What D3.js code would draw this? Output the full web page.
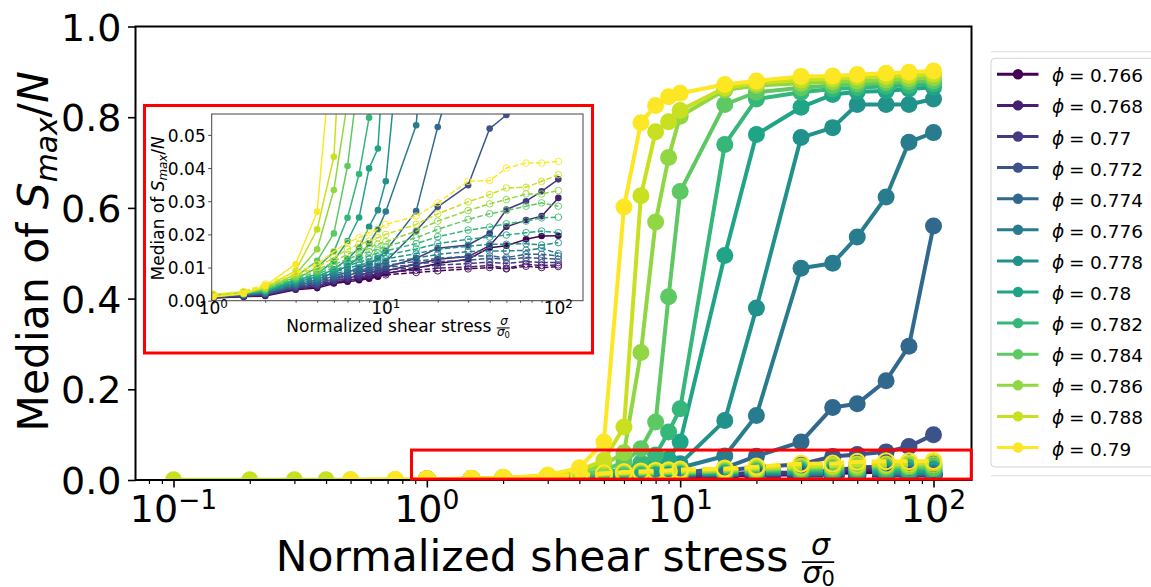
<!DOCTYPE html>
<html><head><meta charset="utf-8">
<script src="https://cdn.jsdelivr.net/npm/d3@7"></script>
<style>body{margin:0;background:#fff}svg{display:block}text{font-family:"DejaVu Sans",sans-serif;fill:#000}</style>
</head><body><svg id="c" width="1151" height="587"></svg>
<script>
// ---------------- data ----------------
const PHI = ["0.766","0.768","0.77","0.772","0.774","0.776","0.778","0.78","0.782","0.784","0.786","0.788","0.79"];
const X_MAIN = [1,1.5,2,3,4,5,6,7,8,9,10,15,20,30,40,50,65,80,100];
const X_LOW_788 = [0.1,0.2,0.3,0.4,0.5,0.75];
const Y_LOW_788 = [0.0005,0.0005,0.0006,0.0006,0.0007,0.0009];
const X_LOW_790 = [0.5,0.75];
const Y_LOW_790 = [0.0007,0.0009];

// median of S_max/N (solid lines, filled markers)
const S_766 = [0.0008,0.0012,0.0014,0.0033,0.0038,0.0052,0.0057,0.0062,0.0066,0.0072,0.0082,0.0098,0.0112,0.0125,0.0160,0.0166,0.0185,0.0195,0.0196];
const S_768 = [0.0009,0.0013,0.0016,0.0035,0.0042,0.0056,0.0062,0.0068,0.0074,0.0080,0.0090,0.0110,0.0125,0.0133,0.0166,0.0223,0.0243,0.0255,0.0310];
const S_770 = [0.0010,0.0014,0.0018,0.0038,0.0046,0.0060,0.0068,0.0076,0.0084,0.0092,0.0100,0.0128,0.0158,0.0168,0.0203,0.0275,0.0300,0.0330,0.0366];
const S_772 = [0.0011,0.0016,0.0020,0.0042,0.0052,0.0066,0.0076,0.0086,0.0095,0.0105,0.0118,0.0210,0.0283,0.0348,0.0519,0.0560,0.0620,0.0740,0.1000];
const S_774 = [0.0012,0.0018,0.0022,0.0046,0.0058,0.0074,0.0086,0.0098,0.0112,0.0128,0.0150,0.0270,0.0524,0.0840,0.1600,0.1680,0.2190,0.2950,0.5600];
const S_776 = [0.0013,0.0019,0.0024,0.0050,0.0064,0.0085,0.0105,0.0130,0.0173,0.0215,0.0269,0.0529,0.1420,0.4670,0.4780,0.5360,0.6240,0.7450,0.7660];
const S_778 = [0.0014,0.0020,0.0026,0.0055,0.0072,0.0095,0.0125,0.0160,0.0223,0.0273,0.0360,0.1310,0.3790,0.7550,0.7770,0.8280,0.8280,0.8280,0.8400];
const S_780 = [0.0015,0.0021,0.0028,0.0060,0.0080,0.0120,0.0180,0.0251,0.0399,0.0459,0.0840,0.4950,0.7620,0.8220,0.8500,0.8560,0.8580,0.8620,0.8660];
const S_782 = [0.0016,0.0022,0.0030,0.0065,0.0100,0.0148,0.0250,0.0382,0.0552,0.1060,0.1570,0.7400,0.8400,0.8550,0.8620,0.8650,0.8680,0.8700,0.8740];
const S_784 = [0.0017,0.0024,0.0033,0.0072,0.0120,0.0203,0.0406,0.0690,0.1280,0.4040,0.6360,0.8280,0.8550,0.8650,0.8700,0.8730,0.8760,0.8780,0.8800];
const S_786 = [0.0018,0.0026,0.0036,0.0080,0.0155,0.0334,0.0600,0.2810,0.5690,0.7110,0.8020,0.8600,0.8700,0.8750,0.8780,0.8800,0.8820,0.8850,0.8870];
const S_788 = [0.0012,0.0020,0.0040,0.0090,0.0215,0.0434,0.1170,0.6270,0.7680,0.7900,0.8150,0.8650,0.8750,0.8820,0.8850,0.8880,0.8900,0.8920,0.8950];
const S_790 = [0.0012,0.0022,0.0045,0.0110,0.0268,0.0840,0.6020,0.7880,0.8260,0.8450,0.8530,0.8720,0.8800,0.8900,0.8910,0.8940,0.8970,0.8990,0.9020];

// secondary quantity (dashed lines, hollow markers)
const D_766 = [0.0010,0.0014,0.0022,0.0038,0.0046,0.0055,0.0061,0.0066,0.0070,0.0074,0.0078,0.0085,0.0090,0.0096,0.0100,0.0096,0.0104,0.0100,0.0103];
const D_768 = [0.0011,0.0015,0.0024,0.0041,0.0050,0.0060,0.0067,0.0072,0.0077,0.0081,0.0085,0.0092,0.0098,0.0102,0.0106,0.0098,0.0110,0.0106,0.0108];
const D_770 = [0.0011,0.0016,0.0026,0.0044,0.0054,0.0065,0.0073,0.0079,0.0084,0.0088,0.0092,0.0100,0.0107,0.0112,0.0116,0.0112,0.0118,0.0115,0.0115];
const D_772 = [0.0012,0.0017,0.0028,0.0047,0.0058,0.0070,0.0079,0.0086,0.0091,0.0096,0.0100,0.0110,0.0118,0.0122,0.0128,0.0125,0.0130,0.0128,0.0125];
const D_774 = [0.0012,0.0018,0.0030,0.0050,0.0062,0.0075,0.0085,0.0092,0.0098,0.0103,0.0107,0.0118,0.0128,0.0134,0.0135,0.0130,0.0140,0.0140,0.0135];
const D_776 = [0.0013,0.0019,0.0032,0.0053,0.0066,0.0080,0.0091,0.0099,0.0106,0.0112,0.0116,0.0128,0.0140,0.0148,0.0150,0.0150,0.0152,0.0158,0.0142];
const D_778 = [0.0013,0.0020,0.0034,0.0056,0.0070,0.0086,0.0098,0.0107,0.0115,0.0121,0.0126,0.0142,0.0155,0.0164,0.0170,0.0170,0.0172,0.0168,0.0175];
const D_780 = [0.0014,0.0021,0.0036,0.0060,0.0075,0.0092,0.0106,0.0116,0.0125,0.0132,0.0138,0.0156,0.0172,0.0185,0.0192,0.0198,0.0205,0.0210,0.0205];
const D_782 = [0.0015,0.0022,0.0038,0.0064,0.0080,0.0100,0.0115,0.0126,0.0136,0.0144,0.0150,0.0172,0.0193,0.0213,0.0222,0.0232,0.0240,0.0250,0.0252];
const D_784 = [0.0016,0.0023,0.0040,0.0068,0.0086,0.0108,0.0126,0.0138,0.0148,0.0156,0.0163,0.0190,0.0215,0.0245,0.0262,0.0272,0.0285,0.0295,0.0285];
const D_786 = [0.0017,0.0024,0.0042,0.0072,0.0092,0.0118,0.0140,0.0152,0.0162,0.0170,0.0178,0.0210,0.0240,0.0272,0.0292,0.0305,0.0322,0.0322,0.0332];
const D_788 = [0.0018,0.0026,0.0045,0.0078,0.0100,0.0130,0.0155,0.0170,0.0180,0.0190,0.0200,0.0230,0.0262,0.0298,0.0320,0.0340,0.0342,0.0360,0.0380];
const D_790 = [0.0020,0.0028,0.0050,0.0085,0.0110,0.0148,0.0175,0.0190,0.0205,0.0215,0.0230,0.0255,0.0295,0.0360,0.0362,0.0400,0.0415,0.0415,0.0420];

const SOLID = [S_766,S_768,S_770,S_772,S_774,S_776,S_778,S_780,S_782,S_784,S_786,S_788,S_790];
const DASHED = [D_766,D_768,D_770,D_772,D_774,D_776,D_778,D_780,D_782,D_784,D_786,D_788,D_790];

const MAIN_Y_TICKS = [0,0.2,0.4,0.6,0.8,1.0];
const MAIN_X_TICKS = [0.1,1,10,100];
const MAIN_X_EXP = ["\u22121","0","1","2"];
const INSET_Y_TICKS = [0,0.01,0.02,0.03,0.04,0.05];
const INSET_X_TICKS = [1,10,100];
const INSET_X_EXP = ["0","1","2"];
const ZOOM_BOX = {x0:0.87, x1:141, y0:0.002, y1:0.066};

// ---------------- build ----------------
const svg = d3.select("#c");
const COLORS = PHI.map((_, i) => d3.interpolateViridis(i / (PHI.length - 1)));

const series = PHI.map((p, i) => {
  let xs = X_MAIN.slice(), ys = SOLID[i].slice();
  if (i === 11) { xs = X_LOW_788.concat(xs); ys = Y_LOW_788.concat(ys); }
  if (i === 12) { xs = X_LOW_790.concat(xs); ys = Y_LOW_790.concat(ys); }
  return {
    phi: p, color: COLORS[i],
    solid: xs.map((x, k) => [x, ys[k]]),
    dashed: X_MAIN.map((x, k) => [x, DASHED[i][k]])
  };
});

function minorTicks(dom) {
  const out = [];
  for (let e = -3; e <= 3; e++) for (let k = 2; k <= 9; k++) {
    const v = k * Math.pow(10, e);
    if (v >= dom[0] && v <= dom[1]) out.push(v);
  }
  return out;
}

function drawPanel(g, x, y, clipId, st) {
  const line = d3.line().x(d => x(d[0])).y(d => y(d[1]));
  const pg = g.append("g").attr("clip-path", `url(#${clipId})`);
  series.forEach(s => {
    pg.append("path").attr("d", line(s.solid)).attr("fill", "none")
      .attr("stroke", s.color).attr("stroke-width", st.lw).attr("stroke-linejoin", "round");
    pg.append("g").selectAll("circle").data(s.solid).join("circle")
      .attr("cx", d => x(d[0])).attr("cy", d => y(d[1])).attr("r", st.r).attr("fill", s.color);
    pg.append("path").attr("d", line(s.dashed)).attr("fill", "none")
      .attr("stroke", s.color).attr("stroke-width", st.lw).attr("stroke-dasharray", st.dash);
    pg.append("g").selectAll("circle").data(s.dashed).join("circle")
      .attr("cx", d => x(d[0])).attr("cy", d => y(d[1])).attr("r", st.rh)
      .attr("fill", "none").attr("stroke", s.color).attr("stroke-width", st.mew);
  });
}

function powLabel(g, px, base, exp, size) {
  const t = g.append("text").attr("x", px).attr("y", base).attr("font-size", size).attr("text-anchor", "middle");
  t.append("tspan").text("10");
  t.append("tspan").attr("font-size", size * 0.7).attr("dy", -size * 0.34).text(exp);
}

function xLabel(g, cx, base, size, fsz) {
  const t = g.append("text").attr("x", 0).attr("y", base).attr("font-size", size).text("Normalized shear stress\u00a0");
  const tw = t.node().getComputedTextLength();
  const fw = fsz * 1.08;
  const x0 = cx - (tw + fw) / 2;
  t.attr("x", x0);
  const fx = x0 + tw;
  const bar = base - size * 0.21;
  g.append("line").attr("x1", fx).attr("x2", fx + fw).attr("y1", bar).attr("y2", bar)
    .attr("stroke", "#000").attr("stroke-width", Math.max(1, fsz * 0.06));
  g.append("text").attr("x", fx + fw / 2 + fsz * 0.08).attr("y", bar - fsz * 0.25).attr("font-size", fsz)
    .attr("font-style", "italic").attr("text-anchor", "middle").text("\u03c3");
  const d = g.append("text").attr("x", fx + fsz * 0.02).attr("y", bar + fsz * 0.7).attr("font-size", fsz);
  d.append("tspan").attr("font-style", "italic").text("\u03c3");
  d.append("tspan").attr("font-size", fsz * 0.7).attr("dy", fsz * 0.1).text("0");
}

function yLabel(g, bx, cy, size) {
  const t = g.append("text").attr("transform", `translate(${bx},${cy}) rotate(-90)`)
    .attr("text-anchor", "middle").attr("font-size", size);
  t.append("tspan").text("Median of ");
  t.append("tspan").attr("font-style", "italic").text("S");
  t.append("tspan").attr("font-style", "italic").attr("font-size", size * 0.7).attr("dy", size * 0.2).text("max");
  t.append("tspan").attr("dy", -size * 0.2).text("/");
  t.append("tspan").attr("font-style", "italic").text("N");
}

const defs = svg.append("defs");

// ---------------- main axes ----------------
const M = {l: 135.5, r: 971.5, t: 26.5, b: 480};
const x = d3.scaleLog().domain([Math.pow(10, -1.15), Math.pow(10, 2.15)]).range([M.l, M.r]);
const y = d3.scaleLinear().domain([0, 1]).range([M.b, M.t]);
defs.append("clipPath").attr("id", "clipMain").append("rect")
  .attr("x", M.l).attr("y", M.t).attr("width", M.r - M.l).attr("height", M.b - M.t);

const main = svg.append("g");
drawPanel(main, x, y, "clipMain", {lw: 4, r: 8.5, rh: 8, mew: 2, dash: "14.8,6.4"});

const gxMin = main.append("g").attr("transform", `translate(0,${M.b})`)
  .call(d3.axisBottom(x).tickValues(minorTicks(x.domain())).tickSize(4).tickFormat(""));
const gx = main.append("g").attr("transform", `translate(0,${M.b})`)
  .call(d3.axisBottom(x).tickValues(MAIN_X_TICKS).tickSize(7.5).tickFormat(""));
const gy = main.append("g").attr("transform", `translate(${M.l},0)`)
  .call(d3.axisLeft(y).tickValues(MAIN_Y_TICKS).tickSize(7.5).tickPadding(6.5).tickFormat(d3.format(".1f")));
[gxMin, gx, gy].forEach(g => { g.select(".domain").remove(); g.attr("font-family", null); });
gxMin.selectAll("line").attr("stroke", "#000").attr("stroke-width", 1.2);
gx.selectAll("line").attr("stroke", "#000").attr("stroke-width", 1.6);
gy.selectAll("line").attr("stroke", "#000").attr("stroke-width", 1.6);
gy.selectAll("text").attr("font-size", 38).attr("dy", "0.36em").attr("font-family", "DejaVu Sans");
main.append("rect").attr("x", M.l).attr("y", M.t).attr("width", M.r - M.l).attr("height", M.b - M.t)
  .attr("fill", "none").attr("stroke", "#000").attr("stroke-width", 2);
MAIN_X_TICKS.forEach((v, i) => powLabel(main, x(v), 522, MAIN_X_EXP[i], 38));
xLabel(main, 555, 571, 42.5, 30);
yLabel(main, 48, 251.5, 42.5);

// zoom rectangle on main axes
main.append("rect").attr("x", x(ZOOM_BOX.x0)).attr("y", y(ZOOM_BOX.y1))
  .attr("width", x(ZOOM_BOX.x1) - x(ZOOM_BOX.x0)).attr("height", y(ZOOM_BOX.y0) - y(ZOOM_BOX.y1))
  .attr("fill", "none").attr("stroke", "#ff0000").attr("stroke-width", 3);

// ---------------- inset ----------------
const I = {l: 211.7, r: 583, t: 114, b: 300.7};
const xi = d3.scaleLog().domain([0.979, 139]).range([I.l, I.r]);
const yi = d3.scaleLinear().domain([0, 0.0563]).range([I.b, I.t]);
defs.append("clipPath").attr("id", "clipInset").append("rect")
  .attr("x", I.l).attr("y", I.t).attr("width", I.r - I.l).attr("height", I.b - I.t);

const ins = svg.append("g");
ins.append("rect").attr("x", 144.5).attr("y", 105.5).attr("width", 448).attr("height", 247.5)
  .attr("fill", "#fff").attr("stroke", "#ff0000").attr("stroke-width", 3);
drawPanel(ins, xi, yi, "clipInset", {lw: 1.5, r: 3.3, rh: 3.3, mew: 0.9, dash: "5.5,2.4"});

const ixMin = ins.append("g").attr("transform", `translate(0,${I.b})`)
  .call(d3.axisBottom(xi).tickValues(minorTicks(xi.domain())).tickSize(2).tickFormat(""));
const ix = ins.append("g").attr("transform", `translate(0,${I.b})`)
  .call(d3.axisBottom(xi).tickValues(INSET_X_TICKS).tickSize(3.5).tickFormat(""));
const iy = ins.append("g").attr("transform", `translate(${I.l},0)`)
  .call(d3.axisLeft(yi).tickValues(INSET_Y_TICKS).tickSize(3.5).tickPadding(2.5).tickFormat(d3.format(".2f")));
[ixMin, ix, iy].forEach(g => { g.select(".domain").remove(); g.attr("font-family", null); });
ins.selectAll(".tick line").attr("stroke", "#333").attr("stroke-width", 0.9);
iy.selectAll("text").attr("font-size", 17).attr("dy", "0.36em").attr("font-family", "DejaVu Sans");
ins.append("rect").attr("x", I.l).attr("y", I.t).attr("width", I.r - I.l).attr("height", I.b - I.t)
  .attr("fill", "none").attr("stroke", "#444").attr("stroke-width", 1);
INSET_X_TICKS.forEach((v, i) => powLabel(ins, xi(v), 313.5, INSET_X_EXP[i], 17));
xLabel(ins, 398, 331.5, 17, 12);
yLabel(ins, 164, 208.3, 17);

// ---------------- legend ----------------
const lg = svg.append("g");
lg.append("line").attr("x1", 991).attr("x2", 1151).attr("y1", 51.7).attr("y2", 51.7).attr("stroke", "#dcdcdc");
lg.append("line").attr("x1", 991).attr("x2", 1151).attr("y1", 475.7).attr("y2", 475.7).attr("stroke", "#dcdcdc");
lg.append("rect").attr("x", 991).attr("y", 58.3).attr("width", 175).attr("height", 408.7).attr("rx", 4)
  .attr("fill", "#fff").attr("stroke", "#d4d4d4").attr("stroke-width", 1);
series.forEach((s, i) => {
  const yy = 74.3 + i * 31.1;
  lg.append("line").attr("x1", 997).attr("x2", 1038.5).attr("y1", yy).attr("y2", yy)
    .attr("stroke", s.color).attr("stroke-width", 3);
  lg.append("circle").attr("cx", 1018).attr("cy", yy).attr("r", 5.2).attr("fill", s.color);
  const t = lg.append("text").attr("y", yy + 8).attr("font-size", 18.5);
  t.append("tspan").attr("x", 1052).attr("font-style", "italic").text("\u03d5");
  t.append("tspan").attr("x", 1069).text("=");
  t.append("tspan").attr("x", 1090).text(s.phi);
});
</script></body></html>
